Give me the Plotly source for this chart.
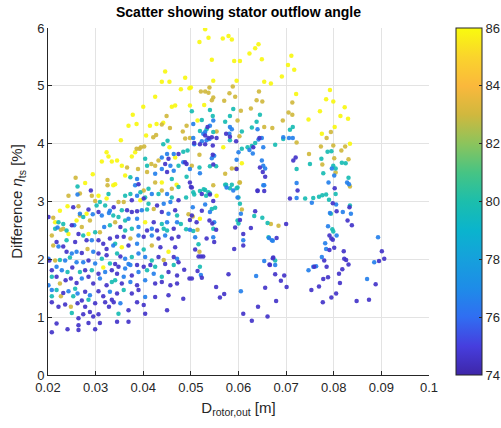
import plotly.graph_objects as go

# ---------------- data ----------------
# Points grouped by colour level = stator outflow angle [deg]
angle_dark, angle_blue, angle_teal, angle_gold, angle_yellow = 74.6, 76.6, 79.8, 83.0, 85.9

dark_pts = [
    # right columns
    (0.0802,3.23),(0.0833,2.90),(0.0798,2.97),(0.0806,2.83),(0.0829,2.67),(0.0838,2.59),(0.0791,2.41),(0.0795,2.36),
    (0.0798,2.34),(0.0791,2.16),(0.0801,2.20),(0.0821,2.14),(0.0822,2.01),(0.0826,1.99),(0.0831,1.91),(0.0780,1.98),
    (0.0759,1.87),(0.0785,1.87),(0.0818,1.83),(0.0811,1.75),(0.0788,1.69),(0.0778,1.66),(0.0769,1.53),(0.0753,1.47),
    (0.0813,1.59),(0.0805,1.41),(0.0795,1.34),(0.0777,1.26),(0.0848,1.28),(0.0874,1.30),(0.0888,1.57),(0.0895,1.97),
    (0.0901,2.14),(0.0906,2.01),
    # middle, upper
    (0.0535,4.29),(0.0554,4.10),(0.0544,4.11),(0.0537,4.10),(0.0530,4.14),(0.0519,3.99),(0.0530,3.99),(0.0546,3.97),
    (0.0507,4.01),(0.0574,4.17),(0.0595,4.04),(0.0582,4.12),(0.0644,4.10),(0.0631,3.94),(0.0645,3.59),(0.0651,3.51),
    (0.0656,3.43),(0.0640,3.19),(0.0596,3.56),(0.0546,3.81),(0.0547,3.64),(0.0715,3.71),(0.0720,3.76),(0.0500,3.25),
    (0.0488,3.68),(0.0491,3.65),(0.0523,3.13),(0.0708,3.05),
    # middle, lower
    (0.0498,3.33),(0.0502,3.24),(0.0540,3.12),(0.0640,3.18),(0.0654,3.18),(0.0724,3.19),(0.0502,2.76),(0.0498,2.68),
    (0.0512,2.64),(0.0523,2.84),(0.0547,3.01),(0.0539,2.67),(0.0545,2.62),(0.0553,2.51),(0.0603,2.68),(0.0593,2.55),
    (0.0635,2.83),(0.0626,2.54),(0.0700,2.61),(0.0474,1.95),(0.0509,2.17),(0.0516,2.05),(0.0521,2.05),(0.0526,2.05),
    (0.0533,2.36),(0.0549,2.30),(0.0591,2.18),(0.0610,2.44),(0.0610,2.24),(0.0680,2.37),(0.0673,2.03),(0.0486,1.82),
    (0.0497,1.67),(0.0502,1.67),(0.0514,1.80),(0.0523,1.68),(0.0484,1.32),(0.0553,1.52),(0.0561,1.34),(0.0570,1.40),
    (0.0579,1.74),(0.0610,1.06),(0.0628,0.94),(0.0641,1.18),(0.0665,1.91),(0.0677,1.74),(0.0689,1.63),(0.0696,1.72),
    (0.0701,1.52),(0.0656,1.51),(0.0679,1.28),(0.0661,1.01),(0.0666,1.90),(0.0672,2.02),
    # left cluster, x < 0.034
    (0.0290,3.19),(0.0201,2.73),(0.0306,2.82),(0.0264,2.44),(0.0218,2.30),(0.0257,2.30),(0.0281,2.33),(0.0306,2.33),
    (0.0316,2.27),(0.0330,2.36),(0.0323,2.18),(0.0232,2.22),(0.0239,2.13),(0.0271,2.11),(0.0306,2.10),(0.0323,2.07),
    (0.0285,1.98),(0.0208,1.81),(0.0251,1.86),(0.0278,1.81),(0.0306,1.75),(0.0334,1.81),(0.0218,1.70),(0.0237,1.64),
    (0.0248,1.67),(0.0260,1.59),(0.0285,1.70),(0.0295,1.58),(0.0323,1.55),(0.0232,1.42),(0.0278,1.44),(0.0306,1.45),
    (0.0316,1.36),(0.0271,1.29),(0.0299,1.24),(0.0320,1.26),(0.0334,1.30),(0.0208,1.26),(0.0222,1.18),(0.0236,1.22),
    (0.0262,1.24),(0.0278,1.18),(0.0328,1.18),(0.0274,1.05),(0.0288,1.09),(0.0306,1.05),(0.0295,1.01),(0.0264,0.98),
    (0.0285,0.90),(0.0309,0.90),(0.0218,0.89),(0.0264,0.86),(0.0241,0.79),(0.0264,0.78),(0.0208,0.74),(0.0299,0.79),
    (0.0253,2.90),(0.0285,2.86),(0.0250,2.59),(0.0203,1.98),
    # left cluster, 0.034 < x < 0.048
    (0.0453,3.74),(0.0446,3.65),(0.0474,3.82),(0.0450,3.51),(0.0390,3.30),(0.0376,3.02),(0.0401,3.05),(0.0429,2.93),
    (0.0474,3.02),(0.0338,2.90),(0.0366,2.85),(0.0376,2.82),(0.0387,2.83),(0.0439,2.82),(0.0467,2.85),(0.0422,2.64),
    (0.0352,2.56),(0.0408,2.50),(0.0429,2.50),(0.0464,2.53),(0.0345,2.39),(0.0359,2.39),(0.0401,2.39),(0.0432,2.36),
    (0.0460,2.36),(0.0474,2.39),(0.0369,2.24),(0.0436,2.21),(0.0467,2.21),(0.0352,2.05),(0.0432,2.04),(0.0464,2.04),
    (0.0341,1.92),(0.0348,1.87),(0.0387,1.90),(0.0401,1.87),(0.0415,1.90),(0.0446,1.92),(0.0345,1.75),(0.0376,1.72),
    (0.0453,1.78),(0.0471,1.72),(0.0355,1.58),(0.0387,1.55),(0.0425,1.58),(0.0439,1.61),(0.0457,1.55),(0.0471,1.58),
    (0.0345,1.41),(0.0376,1.41),(0.0390,1.47),(0.0425,1.35),(0.0453,1.38),(0.0338,1.26),(0.0387,1.26),(0.0401,1.21),
    (0.0369,1.12),(0.0404,1.06),(0.0450,1.12),(0.0345,0.92),(0.0369,0.92),
]

blue_pts = [
    (0.0796,3.57),(0.0801,3.45),(0.0789,3.33),(0.0828,3.33),(0.0832,3.30),(0.0754,2.98),(0.0805,2.95),(0.0819,2.82),
    (0.0836,2.79),(0.0792,2.80),(0.0788,2.57),(0.0806,2.41),(0.0893,2.38),(0.0782,2.28),(0.0784,2.18),(0.0775,2.04),
    (0.0747,1.81),(0.0763,1.88),(0.0885,1.95),(0.0870,1.66),(0.0757,1.87),
    (0.0540,4.31),(0.0547,4.40),(0.0505,4.34),(0.0530,4.20),(0.0526,4.17),(0.0582,4.29),(0.0586,4.25),(0.0581,4.17),
    (0.0640,4.25),(0.0649,4.10),(0.0642,4.07),(0.0623,3.89),(0.0630,3.83),(0.0600,3.85),(0.0596,3.72),
    (0.0505,4.10),(0.0507,3.99),(0.0533,4.06),(0.0523,4.04),(0.0539,4.08),(0.0694,4.11),(0.0706,4.10),(0.0714,4.10),
    (0.0652,3.94),(0.0649,3.71),(0.0652,3.62),(0.0656,3.57),(0.0549,3.79),(0.0544,3.75),(0.0519,3.49),
    (0.0484,3.68),(0.0498,3.56),(0.0598,3.07),(0.0654,3.28),(0.0722,3.06),
    (0.0504,2.90),(0.0540,2.82),(0.0530,2.95),(0.0549,2.64),(0.0498,2.51),(0.0605,2.79),(0.0575,3.24),(0.0589,3.19),
    (0.0652,3.28),(0.0722,3.32),(0.0509,2.38),(0.0547,2.38),(0.0610,2.33),(0.0670,2.33),(0.0654,1.97),(0.0521,1.73),
    (0.0605,1.45),(0.0637,1.71),(0.0664,2.37),(0.0672,2.32),(0.0677,1.90),
    # left cluster, x < 0.034
    (0.0330,2.84),(0.0328,2.80),(0.0294,2.78),(0.0313,2.76),(0.0318,2.56),(0.0255,2.59),(0.0292,2.33),(0.0337,2.24),
    (0.0222,2.22),(0.0250,2.10),(0.0260,2.13),(0.0295,2.13),(0.0201,2.01),(0.0236,1.98),(0.0260,1.95),(0.0274,1.95),
    (0.0299,1.93),(0.0218,1.87),(0.0229,1.81),(0.0320,1.78),(0.0271,1.67),(0.0201,1.55),(0.0309,1.67),(0.0208,1.47),
    (0.0243,1.45),(0.0262,1.41),(0.0288,1.38),(0.0330,1.44),(0.0262,3.12),(0.0267,2.79),(0.0220,2.55),
    # left cluster, 0.034 < x < 0.048
    (0.0387,3.39),(0.0439,3.76),(0.0450,3.82),(0.0464,3.82),(0.0457,3.62),(0.0439,3.56),(0.0464,3.53),(0.0425,3.48),
    (0.0383,3.28),(0.0387,3.10),(0.0418,3.13),(0.0450,3.13),(0.0443,2.96),(0.0457,2.99),(0.0397,2.85),(0.0453,2.79),
    (0.0369,2.70),(0.0387,2.70),(0.0450,2.64),(0.0471,2.64),(0.0390,2.56),(0.0418,2.53),(0.0390,2.41),(0.0418,2.41),
    (0.0446,2.41),(0.0387,2.27),(0.0362,2.01),(0.0390,2.10),(0.0404,2.04),(0.0471,2.01),(0.0369,1.92),(0.0373,1.90),
    (0.0362,1.84),(0.0390,1.78),(0.0422,1.75),(0.0359,1.70),(0.0373,1.61),(0.0404,1.64),(0.0404,1.35),(0.0352,1.24),
]

teal_pts = [
    (0.0787,3.86),(0.0795,3.87),(0.0774,3.74),(0.0750,3.65),(0.0817,3.67),(0.0825,3.66),(0.0799,3.62),(0.0804,3.57),
    (0.0778,3.49),(0.0831,3.41),(0.0740,3.05),(0.0757,3.06),(0.0769,3.08),(0.0776,3.11),(0.0784,3.12),(0.0804,3.13),
    (0.0790,3.03),(0.0834,2.93),(0.0794,2.79),(0.0797,2.52),(0.0799,2.48),
    (0.0502,4.56),(0.0540,4.58),(0.0546,4.48),(0.0523,4.41),(0.0572,4.38),(0.0589,4.60),(0.0582,4.48),(0.0645,4.50),
    (0.0638,4.38),(0.0628,4.28),(0.0519,4.22),(0.0533,4.25),(0.0547,4.20),(0.0607,4.21),(0.0582,4.06),(0.0677,3.98),
    (0.0694,4.08),(0.0708,4.24),(0.0714,4.29),(0.0619,3.94),(0.0607,3.91),(0.0628,3.96),(0.0635,4.01),(0.0451,4.05),
    (0.0442,3.99),(0.0484,3.86),(0.0493,3.88),(0.0518,3.59),(0.0540,3.61),(0.0553,3.61),(0.0722,3.56),(0.0491,3.43),
    (0.0572,3.29),(0.0582,3.23),(0.0596,3.23),(0.0490,3.07),(0.0519,3.18),(0.0530,3.20),(0.0507,3.12),(0.0532,3.10),
    (0.0540,3.14),(0.0600,3.07),
    (0.0505,3.16),(0.0527,3.21),(0.0537,3.16),(0.0551,2.89),(0.0544,2.87),(0.0574,3.29),(0.0586,3.29),(0.0598,3.24),
    (0.0479,2.61),(0.0547,2.53),(0.0505,2.49),(0.0603,2.96),(0.0598,2.67),(0.0600,2.62),(0.0633,2.75),(0.0650,2.72),
    (0.0661,2.63),(0.0516,2.26),(0.0663,2.38),(0.0677,1.98),(0.0519,1.87),(0.0490,2.52),
    # left cluster, x < 0.034
    (0.0262,3.26),(0.0327,3.13),(0.0302,2.93),(0.0320,2.93),(0.0337,2.76),(0.0222,2.64),(0.0232,2.61),(0.0215,2.53),
    (0.0239,2.33),(0.0274,2.73),(0.0330,2.59),(0.0299,2.47),(0.0274,2.41),(0.0313,2.01),(0.0225,1.99),(0.0246,2.03),
    (0.0330,1.93),(0.0241,1.78),(0.0267,1.78),(0.0292,1.81),(0.0208,1.70),(0.0334,1.61),(0.0218,1.47),(0.0257,1.49),
    (0.0208,1.36),(0.0253,1.36),(0.0285,1.30),(0.0250,1.07),(0.0309,2.99),(0.0239,2.50),
    # left cluster, 0.034 < x < 0.048
    (0.0373,3.42),(0.0404,3.74),(0.0408,3.62),(0.0474,3.62),(0.0460,3.39),(0.0411,3.22),(0.0474,3.25),(0.0362,3.10),
    (0.0373,3.13),(0.0394,3.16),(0.0404,3.07),(0.0432,3.13),(0.0460,3.07),(0.0411,2.96),(0.0355,2.85),(0.0408,2.86),
    (0.0471,2.76),(0.0348,2.73),(0.0362,2.67),(0.0439,2.61),(0.0362,2.50),(0.0376,2.53),(0.0443,2.53),(0.0450,2.50),
    (0.0341,2.27),(0.0401,2.17),(0.0345,2.10),(0.0376,2.04),(0.0418,1.98),(0.0425,1.87),(0.0464,1.90),(0.0408,1.81),
    (0.0439,1.70),(0.0341,1.64),(0.0359,1.47),(0.0348,1.06),
]

gold_pts = [
    (0.0794,4.20),(0.0785,4.10),(0.0773,3.95),(0.0799,3.97),(0.0824,3.95),(0.0816,3.88),(0.0748,3.82),(0.0801,3.75),
    (0.0831,3.73),(0.0776,3.64),(0.0804,3.50),(0.0834,3.26),
    (0.0530,4.90),(0.0521,4.90),(0.0539,4.97),(0.0537,4.88),(0.0547,4.80),(0.0544,4.75),(0.0581,4.87),(0.0588,4.99),
    (0.0593,4.81),(0.0570,4.74),(0.0643,4.90),(0.0638,4.75),(0.0650,4.73),(0.0626,4.61),(0.0605,4.57),(0.0598,4.40),
    (0.0449,4.48),(0.0456,4.27),(0.0491,4.31),(0.0483,4.21),(0.0498,4.10),(0.0488,4.09),(0.0554,4.21),(0.0654,4.29),
    (0.0671,4.27),(0.0693,4.40),(0.0705,4.54),(0.0713,4.50),(0.0713,4.71),(0.0722,4.02),(0.0602,4.13),(0.0518,3.81),
    (0.0586,3.57),(0.0595,3.57),(0.0602,3.33),(0.0572,3.48),(0.0502,3.62),(0.0439,4.33),
    (0.0386,3.91),(0.0392,3.91),(0.0395,3.94),(0.0402,3.95),(0.0421,4.11),(0.0427,4.15),
    (0.0495,2.78),(0.0504,2.74),(0.0514,2.51),(0.0547,3.28),(0.0603,3.33),(0.0607,2.86),(0.0668,2.61),(0.0518,2.13),
    (0.0684,2.58),
    # left cluster, x < 0.034
    (0.0258,3.41),(0.0325,3.37),(0.0267,3.14),(0.0292,3.10),(0.0325,3.28),(0.0243,3.10),(0.0264,2.92),(0.0299,3.01),
    (0.0211,2.72),(0.0227,2.51),(0.0232,2.53),(0.0208,2.41),(0.0267,2.76),(0.0288,2.67),(0.0309,2.47),(0.0271,2.56),
    (0.0211,2.24),(0.0283,2.18),(0.0215,1.98),(0.0225,1.58),(0.0227,1.36),(0.0248,1.18),
    # left cluster, 0.034 < x < 0.048
    (0.0366,3.59),(0.0389,3.56),(0.0417,3.65),(0.0425,3.62),(0.0432,3.71),(0.0408,3.51),(0.0425,3.33),(0.0401,3.19),
    (0.0439,3.19),(0.0460,3.22),(0.0348,2.99),(0.0359,2.99),(0.0422,2.87),(0.0341,2.64),(0.0373,2.36),(0.0418,2.24),
    (0.0443,1.99),
]

yellow_pts = [
    (0.0792,4.93),(0.0784,4.77),(0.0799,4.73),(0.0771,4.56),(0.0823,4.63),(0.0747,4.42),(0.0814,4.48),(0.0830,4.43),
    (0.0802,4.29),(0.0775,4.17),(0.0834,4.00),
    (0.0530,5.98),(0.0518,5.76),(0.0537,5.83),(0.0567,5.82),(0.0579,5.86),(0.0586,5.80),(0.0642,5.72),(0.0635,5.65),
    (0.0623,5.56),(0.0544,5.45),(0.0591,5.43),(0.0603,5.43),(0.0649,5.46),(0.0711,5.52),(0.0704,5.36),(0.0717,5.28),
    (0.0446,5.25),(0.0439,5.07),(0.0455,5.07),(0.0488,5.14),(0.0547,5.09),(0.0596,5.09),(0.0654,5.07),(0.0668,5.04),
    (0.0691,5.16),(0.0721,4.86),(0.0479,4.94),(0.0497,4.96),(0.0460,4.64),(0.0467,4.66),(0.0528,4.67),(0.0498,4.66),
    (0.0442,4.36),(0.0514,4.40),(0.0568,3.94),(0.0607,3.66),(0.0470,3.29),(0.0500,4.97),
    (0.0425,4.81),(0.0400,4.64),(0.0378,4.50),(0.0369,4.31),(0.0386,4.34),(0.0414,4.31),(0.0353,4.06),(0.0406,4.14),
    (0.0323,3.85),(0.0327,3.78),(0.0313,3.69),(0.0334,3.69),(0.0428,4.34),(0.0455,3.94),
    (0.0519,2.70),(0.0554,3.10),
    # left cluster, x < 0.034
    (0.0294,3.47),(0.0278,3.32),(0.0337,3.28),(0.0306,3.10),(0.0323,3.05),(0.0225,2.84),(0.0241,2.92),(0.0281,2.79),
    (0.0243,2.44),(0.0285,2.44),(0.0316,1.86),(0.0215,2.64),(0.0260,2.67),
    # left cluster, 0.034 < x < 0.048
    (0.0383,3.85),(0.0376,3.78),(0.0345,3.71),(0.0355,3.62),(0.0362,3.45),(0.0467,3.76),(0.0439,3.33),(0.0341,3.30),
    (0.0394,3.02),(0.0404,2.64),(0.0355,2.21),(0.0453,2.13),
]

x_ticks = [0.02, 0.03, 0.04, 0.05, 0.06, 0.07, 0.08, 0.09, 0.1]
x_tick_text = ["0.02", "0.03", "0.04", "0.05", "0.06", "0.07", "0.08", "0.09", "0.1"]
y_ticks = [0, 1, 2, 3, 4, 5, 6]
cbar_ticks = [74, 76, 78, 80, 82, 84, 86]

# ---------------- assemble ----------------
groups = [(yellow_pts, angle_yellow), (gold_pts, angle_gold), (teal_pts, angle_teal),
          (blue_pts, angle_blue), (dark_pts, angle_dark)]
xs, ys, cs = [], [], []
for pts, a in groups:
    for (px, py) in pts:
        xs.append(px); ys.append(py); cs.append(a)

parula = [
    [0.000, "rgb(62,38,168)"],
    [0.083, "rgb(70,62,222)"],
    [0.167, "rgb(48,110,242)"],
    [0.250, "rgb(30,140,232)"],
    [0.333, "rgb(22,160,220)"],
    [0.417, "rgb(10,180,205)"],
    [0.500, "rgb(28,190,172)"],
    [0.583, "rgb(70,196,132)"],
    [0.667, "rgb(140,196,92)"],
    [0.750, "rgb(208,184,62)"],
    [0.833, "rgb(250,184,60)"],
    [0.917, "rgb(250,212,44)"],
    [1.000, "rgb(249,251,14)"],
]

FONT = "Liberation Sans, Arial, Helvetica, sans-serif"
TXT = "#262626"

fig = go.Figure(go.Scatter(
    x=xs, y=ys, mode="markers",
    marker=dict(size=4.5, color=cs, colorscale=parula, cmin=74, cmax=86,
                opacity=0.92, line=dict(width=0),
                colorbar=dict(
                    x=(456 - 48) / 381, xanchor="left", y=0.5, yanchor="middle",
                    len=1, lenmode="fraction", thickness=26,
                    xpad=0, ypad=0,
                    outlinewidth=1, outlinecolor=TXT,
                    tickvals=cbar_ticks, ticks="inside", ticklen=3, tickcolor=TXT,
                    tickfont=dict(family=FONT, size=13, color=TXT),
                )),
    hoverinfo="skip", showlegend=False,
))

fig.update_layout(
    width=501, height=428,
    margin=dict(l=48, r=72, t=28, b=53, autoexpand=False),
    paper_bgcolor="white", plot_bgcolor="white",
    font=dict(family=FONT, color=TXT),
    title=dict(text="<b>Scatter showing stator outflow angle</b>",
               x=0.5, xref="paper", xanchor="center",
               y=1 - 12 / 428, yref="container", yanchor="middle",
               font=dict(family=FONT, size=14, color="black")),
)
fig.update_xaxes(
    range=[0.02, 0.1], tickvals=x_ticks, ticktext=x_tick_text,
    showgrid=True, gridcolor="#e3e3e3", gridwidth=1, zeroline=False,
    showline=True, linecolor=TXT, linewidth=1, mirror=False,
    ticks="inside", ticklen=4, tickcolor=TXT,
    tickfont=dict(family=FONT, size=13, color=TXT),
    title=dict(text="D<sub>rotor,out</sub> [m]", standoff=8,
               font=dict(family=FONT, size=15, color=TXT)),
)
fig.update_yaxes(
    range=[0, 6], tickvals=y_ticks,
    showgrid=True, gridcolor="#e3e3e3", gridwidth=1, zeroline=False,
    showline=True, linecolor=TXT, linewidth=1, mirror=False,
    ticks="inside", ticklen=4, tickcolor=TXT,
    tickfont=dict(family=FONT, size=13, color=TXT),
    title=dict(text="Difference <i>η</i><sub>ts</sub> [%]", standoff=10,
               font=dict(family=FONT, size=15, color=TXT)),
)

fig.write_html("out.html")
